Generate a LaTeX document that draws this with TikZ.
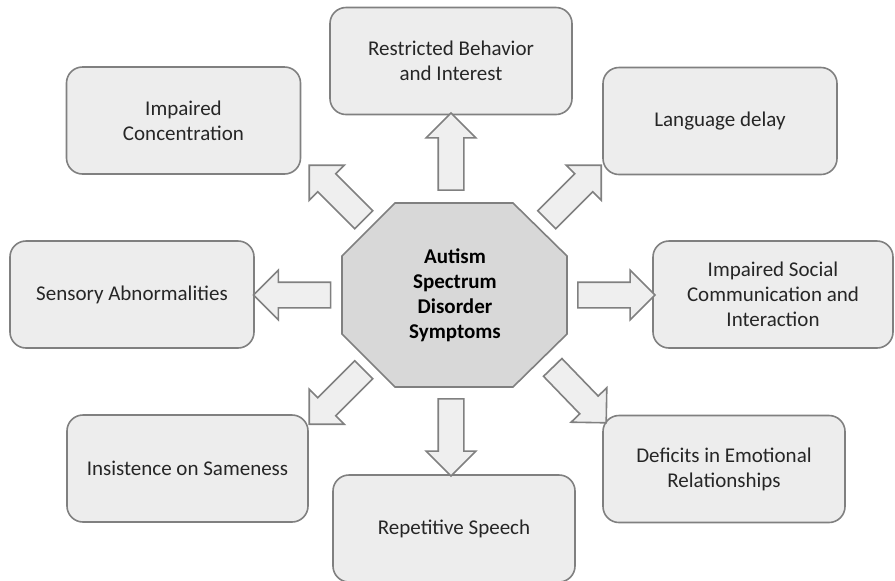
\documentclass[tikz,border=0pt]{standalone}
\usepackage{fontspec}
\setmainfont{Carlito}
\usetikzlibrary{shapes,arrows}
\usetikzlibrary{positioning}
\definecolor{boxfill}{RGB}{237,237,237}
\definecolor{hubfill}{RGB}{216,216,216}
\definecolor{arrfill}{RGB}{239,239,239}
\definecolor{boxline}{RGB}{128,128,128}
\definecolor{txt}{RGB}{38,38,38}

\begin{document}
\begin{tikzpicture}[x=0.5pt,y=-0.5pt,font=\fontsize{10.5}{12.5}\selectfont]
  \tikzset{
  sym_box/.style = {rectangle, rounded corners=8pt, draw=boxline, fill=boxfill,
    line width=0.8pt, text=txt, align=center, minimum height=53.5pt},
  hub_oct/.style = {draw=boxline, fill=hubfill, line width=0.8pt},% centre octagon
  hub_txt/.style = {align=center, text=black,
    font=\fontsize{10.5}{12.5}\selectfont\bfseries},
  blk_arr/.style = {single arrow, draw=boxline, fill=arrfill, line width=0.8pt,
    inner xsep=0pt, inner ysep=6pt, single arrow head extend=6pt,
    minimum height=38.5pt}% block arrow
}
\useasboundingbox (0,0) rectangle (895,580);

\draw [hub_oct] (342,256) -- (395,203) -- (513,203) -- (567,256)
  -- (567,334) -- (513,387) -- (395,387) -- (342,334) -- cycle;
\node [hub_txt] (hub) at (455,295) {Autism\\Spectrum\\Disorder\\Symptoms};

\node [sym_box, minimum width=117pt] (conc) at (183.5,120.5) {Impaired\\Concentration};
\node [sym_box, minimum width=121pt] (restr) at (451,61) {Restricted Behavior\\and Interest};
\node [sym_box, minimum width=117pt] (lang) at (720,121) {Language delay};
\node [sym_box, minimum width=122pt] (sens) at (132,294.5) {Sensory Abnormalities};
\node [sym_box, minimum width=120pt] (social) at (773,294.5) {Impaired Social\\Communication and\\Interaction};
\node [sym_box, minimum width=120.5pt] (insist) at (187.5,468.5) {Insistence on Sameness};
\node [sym_box, minimum width=121pt] (rep) at (454,528.5) {Repetitive Speech};
\node [sym_box, minimum width=121pt] (defic) at (724,469) {Deficits in Emotional\\Relationships};

% arrows from the octagon out to each symptom
\node [blk_arr, rotate=90] (a_up) at (451,158) {};
\node [blk_arr, rotate=45] (a_ne) at (569.5,197) {};
\node [blk_arr, rotate=0] (a_right) at (610,295) {};
\node [blk_arr, rotate=-46] (a_se) at (575,390.5) {};
\node [blk_arr, rotate=-90] (a_down) at (451,431) {};
\node [blk_arr, rotate=225] (a_sw) at (341,392.5) {};
\node [blk_arr, rotate=180] (a_left) at (298.5,295) {};
\node [blk_arr, rotate=135] (a_nw) at (341,197) {};
\end{tikzpicture}
\end{document}
